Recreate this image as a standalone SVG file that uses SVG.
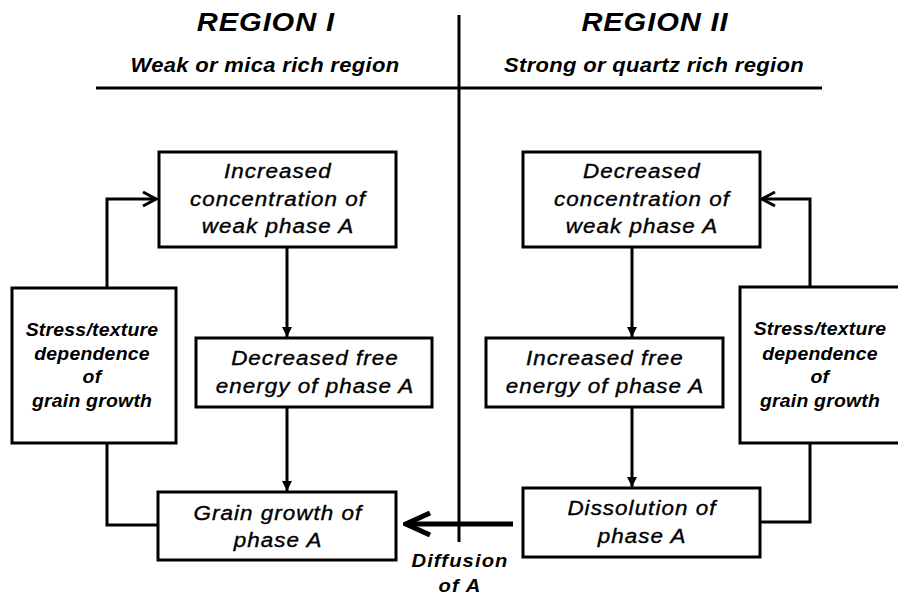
<svg xmlns="http://www.w3.org/2000/svg" width="898" height="597" viewBox="0 0 898 597">
  <style>
    .box { fill: #fff; stroke: #000; stroke-width: 3; }
    .ln { fill: none; stroke: #000; stroke-width: 3; }
    text { font-family: "Liberation Sans", Arial, sans-serif; font-style: italic; fill: #000; text-anchor: middle; transform-box: fill-box; transform-origin: center; }
    .h { font-size: 26px; font-weight: bold; letter-spacing: 0.8px; transform: scaleX(1.12); }
    .sub { font-size: 20px; font-weight: bold; letter-spacing: 0.3px; transform: scaleX(1.1); }
    .t { font-size: 19.5px; letter-spacing: 0.9px; transform: scaleX(1.15); stroke: #000; stroke-width: 0.35px; }
    .s { font-size: 18px; font-weight: bold; letter-spacing: 0.2px; transform: scaleX(1.08); }
    .d { font-size: 18px; font-weight: bold; letter-spacing: 1px; transform: scaleX(1.12); }
  </style>
  <defs>
    <marker id="tri" viewBox="0 0 10 10" refX="10" refY="5" markerWidth="10" markerHeight="10" markerUnits="userSpaceOnUse" orient="auto">
      <path d="M0,0 L10,5 L0,10 z" fill="#000"/>
    </marker>
    <marker id="chev" viewBox="0 0 18 20" refX="16" refY="10" markerWidth="18" markerHeight="20" markerUnits="userSpaceOnUse" orient="auto">
      <path d="M3,3 L16,10 L3,17" fill="none" stroke="#000" stroke-width="3"/>
    </marker>
    <marker id="chevBig" viewBox="0 0 30 28" refX="27" refY="14" markerWidth="30" markerHeight="28" markerUnits="userSpaceOnUse" orient="auto">
      <path d="M3,3 L27,14 L3,25" fill="none" stroke="#000" stroke-width="5"/>
    </marker>
  </defs>
  <rect width="898" height="597" fill="#fff"/>

  <g id="headers">
    <line class="ln" x1="459" y1="15" x2="459" y2="542"/>
    <line class="ln" x1="96" y1="88" x2="822" y2="88"/>
    <text class="h" x="266" y="31">REGION I</text>
    <text class="h" x="655" y="31">REGION II</text>
    <text class="sub" x="265" y="72">Weak or mica rich region</text>
    <text class="sub" x="654" y="72">Strong or quartz rich region</text>
  </g>

  <g id="connectors">
    <path class="ln" d="M107,288 V199 H156" marker-end="url(#chev)"/>
    <path class="ln" d="M107,443 V525 H158"/>
    <path class="ln" d="M810,287 V199 H762" marker-end="url(#chev)"/>
    <path class="ln" d="M810,443 V522 H760"/>
    <path class="ln" d="M287,247 V337" marker-end="url(#tri)"/>
    <path class="ln" d="M287,407 V491" marker-end="url(#tri)"/>
    <path class="ln" d="M632,247 V337" marker-end="url(#tri)"/>
    <path class="ln" d="M632,407 V487" marker-end="url(#tri)"/>
    <path class="ln" d="M513,524 H406" style="stroke-width:5" marker-end="url(#chevBig)"/>
  </g>

  <g id="n-inc-conc">
    <rect class="box" x="159" y="152" width="237" height="95"/>
    <text class="t" x="278" y="178">Increased</text>
    <text class="t" x="278" y="206">concentration of</text>
    <text class="t" x="278" y="233">weak phase A</text>
  </g>
  <g id="n-dec-conc">
    <rect class="box" x="523" y="152" width="237" height="95"/>
    <text class="t" x="642" y="178">Decreased</text>
    <text class="t" x="642" y="206">concentration of</text>
    <text class="t" x="642" y="233">weak phase A</text>
  </g>
  <g id="n-dec-free">
    <rect class="box" x="196" y="338" width="236" height="69"/>
    <text class="t" x="315" y="365">Decreased free</text>
    <text class="t" x="315" y="393">energy of phase A</text>
  </g>
  <g id="n-inc-free">
    <rect class="box" x="486" y="338" width="237" height="69"/>
    <text class="t" x="605" y="365">Increased free</text>
    <text class="t" x="605" y="393">energy of phase A</text>
  </g>
  <g id="n-grain">
    <rect class="box" x="158" y="492" width="238" height="68"/>
    <text class="t" x="278" y="520">Grain growth of</text>
    <text class="t" x="278" y="547">phase A</text>
  </g>
  <g id="n-dissolution">
    <rect class="box" x="523" y="488" width="237" height="69"/>
    <text class="t" x="642" y="515">Dissolution of</text>
    <text class="t" x="642" y="543">phase A</text>
  </g>
  <g id="n-stress-left">
    <rect class="box" x="12" y="288" width="164" height="155"/>
    <text class="s" x="92" y="336">Stress/texture</text>
    <text class="s" x="92" y="360">dependence</text>
    <text class="s" x="92" y="383">of</text>
    <text class="s" x="92" y="407">grain growth</text>
  </g>
  <g id="n-stress-right">
    <rect class="box" x="740" y="287" width="166" height="156"/>
    <text class="s" x="820" y="335">Stress/texture</text>
    <text class="s" x="820" y="360">dependence</text>
    <text class="s" x="820" y="383">of</text>
    <text class="s" x="820" y="407">grain growth</text>
  </g>
  <g id="diffusion-label">
    <text class="d" x="460" y="567">Diffusion</text>
    <text class="d" x="460" y="592">of A</text>
  </g>
</svg>
